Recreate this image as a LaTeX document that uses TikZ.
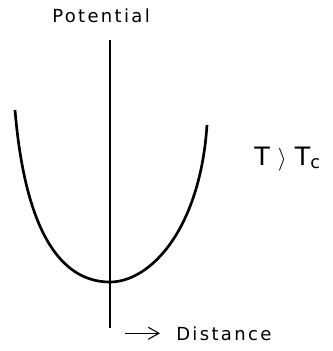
\documentclass[tikz,border=0pt]{standalone}
\usepackage{fontspec}
\setmainfont{DejaVu Sans}
\newfontfamily\spacedfont[LetterSpace=13]{DejaVu Sans}
\usetikzlibrary{arrows.meta}

\begin{document}
\begin{tikzpicture}[x=0.75pt,y=-0.75pt]
    \useasboundingbox (0,0) rectangle (333,351);
    %asse verticale
    \coordinate (axtop) at (110,40);
    \coordinate (axbot) at (110,328);
    \draw[line width=0.9pt](axtop)--(axbot);
    %etichette
    \node[anchor=base west,inner sep=0,font=\fontsize{13.5}{15}\spacedfont] (pot) at (52,22) {Potential};
    \node[anchor=base west,inner sep=0,font=\fontsize{13.5}{15}\spacedfont] (dist) at (176,340) {Distance};
    \node[anchor=base west,inner sep=0,font=\fontsize{19}{22}\selectfont] (temp) at (254,165) {T $\rangle$ T\textsubscript{c}};
    %freccia distanza
    \coordinate (arr) at ([xshift=-38pt]dist.west);
    \draw[line width=0.8pt,-{Straight Barb[length=8pt,width=9pt]}](arr)--([xshift=-12pt]dist.west);
    %curva del potenziale
    \draw[line width=2pt](15,110)..controls (25,230) and (60,282)..(110,282)
        ..controls (150,282) and (200,230)..(207,125);
\end{tikzpicture}
\end{document}
